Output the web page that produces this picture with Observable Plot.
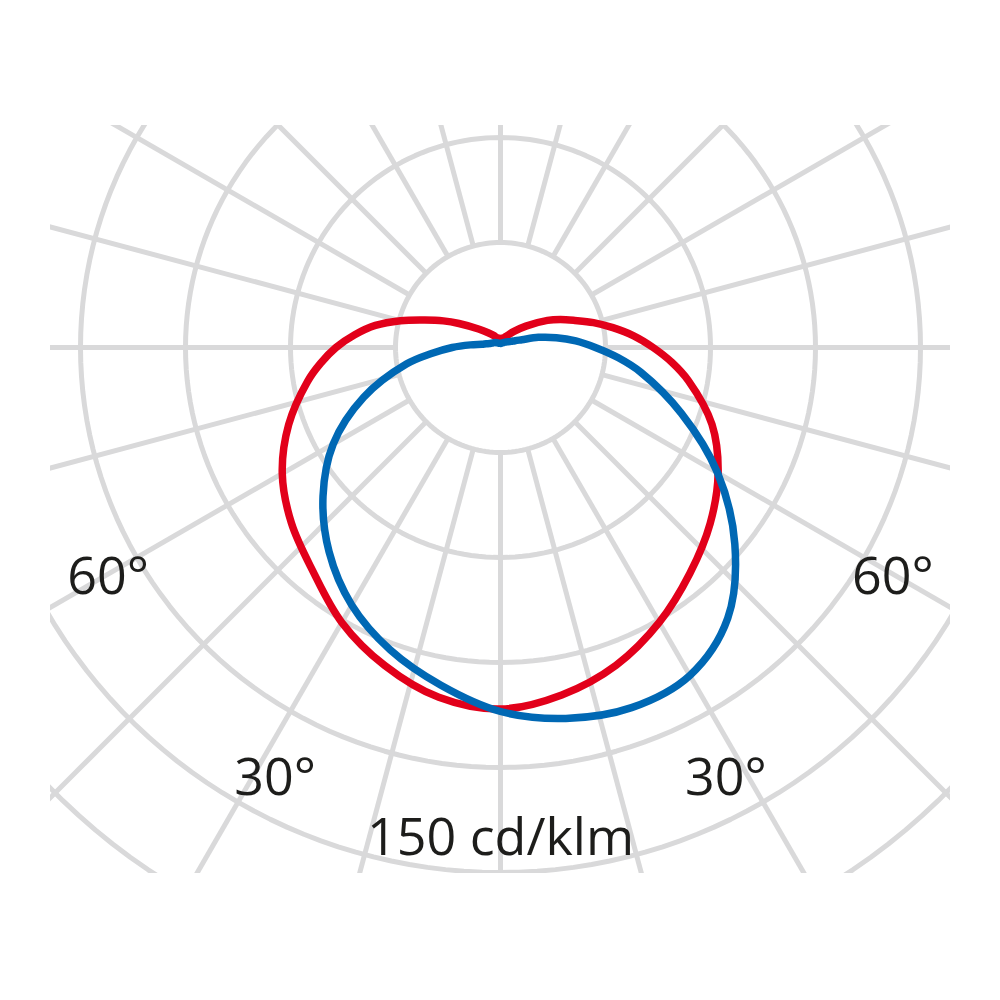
<!DOCTYPE html>
<html>
<head>
<meta charset="utf-8">
<script src="https://cdn.jsdelivr.net/npm/d3@7"></script>
<script src="https://cdn.jsdelivr.net/npm/@observablehq/plot@0.6"></script>
<style>
  html, body { margin: 0; padding: 0; background: #fff; }
  #chart svg { display: block; }
</style>
</head>
<body>
<div id="chart"></div>
<script>
// ---- data (cd/klm), gamma angles in degrees: negative = left half-plane ----
const gammaAngles = [-180,-170,-160,-150,-140,-130,-120,-115,-110,-105,-100,-95,-90,-85,-80,-70,-60,-50,-40,-30,-20,-10,
                     0,10,20,30,40,50,60,70,80,85,90,95,100,105,110,115,120,130,140,150,160,170,180];
const redValues = [2.6,2.7,3,4,5.5,8.2,13.7,18,23,29.6,36.3,41.8,47,51.6,56,64.4,72,78,83.4,90.7,96.7,101.5,
                   103.3,100.8,96.6,90.7,84.2,78.2,71.8,64.3,54.5,49.2,43.6,38.2,32.6,27.5,22.6,18.9,15.5,9.5,6,4,3,2.7,2.6];
const blueValues = [1.2,1.2,1.3,1.5,1.8,2.2,2.6,2.9,3.3,4.2,5.4,8.6,13.8,19.8,27.3,41.6,55.2,66.2,76.2,85,92,98,
                    104,107.6,109.5,108.2,101,87.4,71.6,55,40.7,33.8,27.1,21.6,16.2,11.2,6.5,4.6,3.5,2.5,2,1.6,1.4,1.2,1.2];

// grid ticks
const gridRadii = [30, 60, 90, 120, 150, 180];
const spokeAngles = [-165,-150,-135,-120,-105,-90,-75,-60,-45,-30,-15,0,15,30,45,60,75,90,105,120,135,150,165,180];
const angleLabelValues = [-60, -30, 30, 60];
const unitLabel = ["150 cd/klm"];

// ---- helpers ----
const rad = d => d * Math.PI / 180;
const px = (g, r) => r * Math.sin(rad(g));
const py = (g, r) => -r * Math.cos(rad(g));

const red = gammaAngles.map((g, i) => ({g, r: redValues[i], x: px(g, redValues[i]), y: py(g, redValues[i])}));
const blue = gammaAngles.map((g, i) => ({g, r: blueValues[i], x: px(g, blueValues[i]), y: py(g, blueValues[i])}));

const circlePts = gridRadii.flatMap(R => d3.range(0, 361, 2).map(a => ({R, x: px(a, R), y: py(a, R)})));
const spokes = spokeAngles.map(a => ({a, x1: px(a, gridRadii[0]), y1: py(a, gridRadii[0]), x2: px(a, 400), y2: py(a, 400)}));

// label placement (layout only)
const labelLayout = {60: {r: 130, dg: -0.4}, 30: {r: 139, dg: -2.4}};
const angleLabels = angleLabelValues.map(a => {
  const L = labelLayout[Math.abs(a)];
  const g = Math.sign(a) * (Math.abs(a) + L.dg);
  return {text: `${Math.abs(a)}°`, x: px(g, L.r), y: py(g, L.r)};
});
const unitLabels = unitLabel.map(t => ({text: t, x: 0, y: -140.3}));

const K = 3.5; // px per cd/klm
const gridColor = "#d9d9da";

const chart = Plot.plot({
  width: 1000,
  height: 1000,
  marginLeft: 50,
  marginRight: 50,
  marginTop: 125,
  marginBottom: 127,
  x: {domain: [-450 / K, 450 / K], axis: null},
  y: {domain: [-526 / K, 222 / K], axis: null},
  style: {background: "#fff"},
  marks: [
    Plot.line(circlePts, {x: "x", y: "y", z: "R", stroke: gridColor, strokeWidth: 5, clip: true}),
    Plot.link(spokes, {x1: "x1", y1: "y1", x2: "x2", y2: "y2", stroke: gridColor, strokeWidth: 5, clip: true}),
    Plot.line(red, {x: "x", y: "y", stroke: "#e2001a", strokeWidth: 7.5, curve: "catmull-rom", strokeLinejoin: "round", strokeLinecap: "round"}),
    Plot.line(blue, {x: "x", y: "y", stroke: "#0068b4", strokeWidth: 7.5, curve: "catmull-rom", strokeLinejoin: "round", strokeLinecap: "round"}),
    Plot.text(angleLabels, {x: "x", y: "y", text: "text", fontSize: 52, fill: "#1d1d1b", fontFamily: "Open Sans"}),
    Plot.text(unitLabels, {x: "x", y: "y", text: "text", fontSize: 52, fill: "#1d1d1b", fontFamily: "Open Sans"})
  ]
});
document.getElementById("chart").appendChild(chart);
</script>
</body>
</html>
